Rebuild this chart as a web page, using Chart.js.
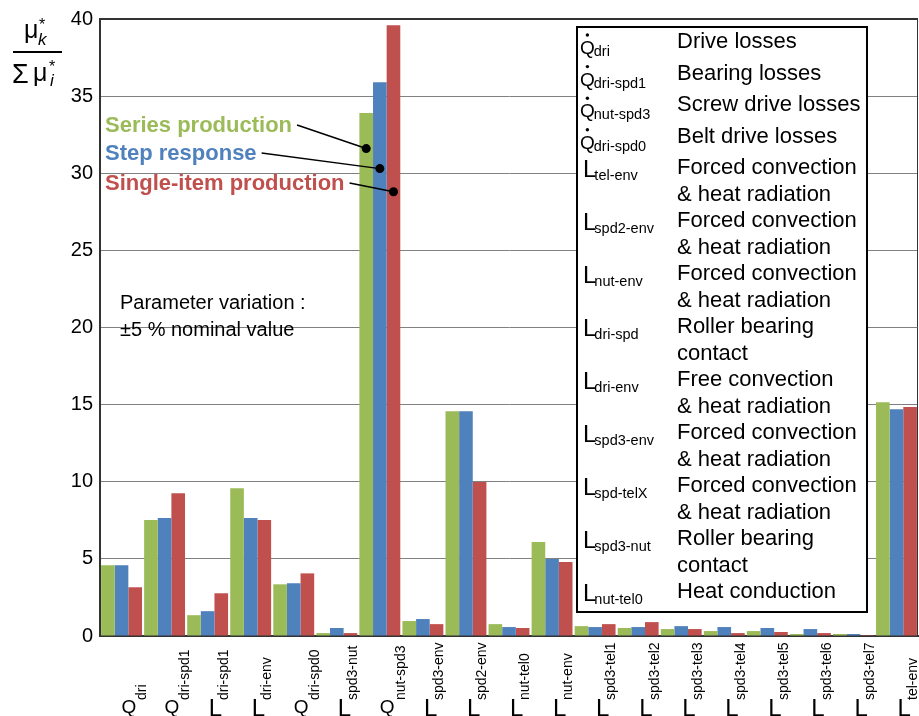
<!DOCTYPE html>
<html>
<head>
<meta charset="utf-8">
<script src="https://cdn.jsdelivr.net/npm/chart.js@4"></script>
<style>
  body { margin: 0; background: #fff; }
  canvas { display: block; }
</style>
</head>
<body>
<canvas id="chart" width="919" height="716"></canvas>
<script>
// categories: main symbol + subscript
var mainLetters = ['Q', 'Q', 'L', 'L', 'Q', 'L', 'Q', 'L', 'L', 'L', 'L', 'L', 'L', 'L', 'L', 'L', 'L', 'L', 'L'];
var subscripts = ['dri', 'dri-spd1', 'dri-spd1', 'dri-env', 'dri-spd0', 'spd3-nut', 'nut-spd3', 'spd3-env', 'spd2-env',
  'nut-tel0', 'nut-env', 'spd3-tel1', 'spd3-tel2', 'spd3-tel3', 'spd3-tel4', 'spd3-tel5', 'spd3-tel6', 'spd3-tel7', 'tel-env'];

// series values
var seriesProduction = [4.58, 7.52, 1.35, 9.58, 3.35, 0.19, 33.9, 0.97, 14.57, 0.77, 6.1, 0.64, 0.52, 0.45, 0.32, 0.32, 0.13, 0.13, 15.16];
var stepResponse = [4.58, 7.65, 1.61, 7.65, 3.42, 0.52, 35.9, 1.1, 14.57, 0.58, 5.0, 0.58, 0.58, 0.64, 0.58, 0.52, 0.45, 0.13, 14.7];
var singleItem = [3.16, 9.26, 2.77, 7.52, 4.06, 0.19, 39.6, 0.77, 9.98, 0.52, 4.8, 0.77, 0.9, 0.45, 0.19, 0.26, 0.19, 0.06, 14.84];
var seriesNames = ['Series production', 'Step response', 'Single-item production'];

// y ticks
var yMin = 0, yMax = 40, yStep = 5;

// legend box rows
var legendSymbols = ['Q', 'Q', 'Q', 'Q', 'L', 'L', 'L', 'L', 'L', 'L', 'L', 'L', 'L'];
var legendSubs = ['dri', 'dri-spd1', 'nut-spd3', 'dri-spd0', 'tel-env', 'spd2-env', 'nut-env', 'dri-spd', 'dri-env', 'spd3-env', 'spd-telX', 'spd3-nut', 'nut-tel0'];
var legendTexts = [
  ['Drive losses'], ['Bearing losses'], ['Screw drive losses'], ['Belt drive losses'],
  ['Forced convection', '& heat radiation'], ['Forced convection', '& heat radiation'], ['Forced convection', '& heat radiation'],
  ['Roller bearing', 'contact'], ['Free convection', '& heat radiation'], ['Forced convection', '& heat radiation'],
  ['Forced convection', '& heat radiation'], ['Roller bearing', 'contact'], ['Heat conduction']
];

var colors = ['#9BBB59', '#4F81BD', '#C0504D'];
var FONT = 'Arial, "Liberation Sans", sans-serif';

// levels (in data units) where the callout dots sit on the Q_nut-spd3 bars
var markerLevels = [31.6, 30.3, 28.8];

var labels = mainLetters.map(function (m, i) { return m + '_' + subscripts[i]; });

function letterFont(letter) {
  return (letter === 'L' ? '24px ' : '19px ') + FONT;
}

var decorPlugin = {
  id: 'decor',
  afterDraw: function (chart) {
    var ctx = chart.ctx;
    var area = chart.chartArea;
    var xs = chart.scales.x;
    var ys = chart.scales.y;
    ctx.save();

    // frame top + right
    ctx.strokeStyle = '#333';
    ctx.lineWidth = 2;
    ctx.beginPath();
    ctx.moveTo(area.left, area.top);
    ctx.lineTo(area.right, area.top);
    ctx.stroke();
    ctx.lineWidth = 1;
    ctx.beginPath();
    ctx.moveTo(area.right - 0.5, area.top);
    ctx.lineTo(area.right - 0.5, area.bottom);
    ctx.stroke();

    // x labels: upright letter + rotated subscript
    ctx.fillStyle = '#000';
    ctx.textAlign = 'left';
    ctx.textBaseline = 'alphabetic';
    for (var i = 0; i < labels.length; i++) {
      var cx = xs.getPixelForValue(i);
      var isL = mainLetters[i] === 'L';
      var left = cx + (isL ? 1 : 0);
      ctx.font = letterFont(mainLetters[i]);
      var mw = ctx.measureText(mainLetters[i]).width;
      ctx.fillText(mainLetters[i], left, isL ? 716 : 713);
      ctx.save();
      ctx.translate(left + mw + (isL ? 6 : 10), 700);
      ctx.rotate(-Math.PI / 2);
      ctx.font = '14px ' + FONT;
      ctx.fillText(subscripts[i], 0, 0);
      ctx.restore();
    }

    // y axis title: mu*_k / sum mu*_i
    ctx.fillStyle = '#000';
    ctx.font = '25px ' + FONT;
    ctx.fillText('\u03bc', 24, 38);
    ctx.font = 'italic 17px ' + FONT;
    ctx.fillText('k', 38, 45);
    ctx.font = '16px ' + FONT;
    ctx.fillText('*', 39, 30);
    ctx.fillRect(13, 51, 49, 2);
    ctx.font = '27px ' + FONT;
    ctx.fillText('\u03a3', 12, 83);
    ctx.font = '25px ' + FONT;
    ctx.fillText('\u03bc', 33, 81);
    ctx.font = 'italic 17px ' + FONT;
    ctx.fillText('i', 50, 86);
    ctx.font = '16px ' + FONT;
    ctx.fillText('*', 49, 72);

    // series callouts
    var textY = [132, 160, 190];
    ctx.font = 'bold 22px ' + FONT;
    for (var s = 0; s < 3; s++) {
      ctx.fillStyle = colors[s];
      ctx.fillText(seriesNames[s], 105, textY[s]);
      var tw = ctx.measureText(seriesNames[s]).width;
      var bar = chart.getDatasetMeta(s).data[6];
      var dy = ys.getPixelForValue(markerLevels[s]);
      ctx.strokeStyle = '#000';
      ctx.lineWidth = 1.5;
      ctx.beginPath();
      ctx.moveTo(105 + tw + 5, textY[s] - 7);
      ctx.lineTo(bar.x, dy);
      ctx.stroke();
      ctx.fillStyle = '#000';
      ctx.beginPath();
      ctx.arc(bar.x, dy, 4.5, 0, Math.PI * 2);
      ctx.fill();
    }

    // parameter note
    ctx.fillStyle = '#000';
    ctx.font = '20px ' + FONT;
    ctx.fillText('Parameter variation :', 120, 309);
    ctx.fillText('\u00b15 % nominal value', 120, 336);

    // legend box
    ctx.fillStyle = '#fff';
    ctx.fillRect(577, 27, 290, 585);
    ctx.strokeStyle = '#000';
    ctx.lineWidth = 2;
    ctx.strokeRect(577, 27, 290, 585);
    var y = 48;
    for (var r = 0; r < legendSymbols.length; r++) {
      var isQ = legendSymbols[r] === 'Q';
      var sx = isQ ? 580 : 583;
      ctx.fillStyle = '#000';
      ctx.font = letterFont(legendSymbols[r]);
      ctx.fillText(legendSymbols[r], sx, y + (isQ ? 6 : 3));
      var sw = ctx.measureText(legendSymbols[r]).width;
      if (isQ) {
        ctx.beginPath();
        ctx.arc(sx + sw / 2, y - 13, 1.7, 0, Math.PI * 2);
        ctx.fill();
      }
      ctx.font = '14.5px ' + FONT;
      ctx.fillText(legendSubs[r], sx + sw - (isQ ? 1 : 2), y + (isQ ? 8 : 6));
      ctx.font = '22px ' + FONT;
      for (var l = 0; l < legendTexts[r].length; l++) {
        ctx.fillText(legendTexts[r][l], 677, y + l * 26.5);
      }
      y += (r < 4 ? 31.6 : 26.5 * legendTexts[r].length);
    }
    ctx.restore();
  }
};

new Chart(document.getElementById('chart'), {
  type: 'bar',
  data: {
    labels: labels,
    datasets: [
      { label: seriesNames[0], data: seriesProduction, backgroundColor: colors[0] },
      { label: seriesNames[1], data: stepResponse, backgroundColor: colors[1] },
      { label: seriesNames[2], data: singleItem, backgroundColor: colors[2] }
    ]
  },
  options: {
    responsive: false,
    animation: false,
    layout: { padding: { top: 17, right: 1, left: 0, bottom: 0 } },
    datasets: { bar: { categoryPercentage: 0.95, barPercentage: 1.0 } },
    plugins: { legend: { display: false }, tooltip: { enabled: false } },
    scales: {
      x: {
        grid: { display: false },
        border: { display: true, color: '#333', width: 2 },
        ticks: { display: false },
        afterFit: function (scale) { scale.height = 80; }
      },
      y: {
        min: yMin,
        max: yMax,
        ticks: { stepSize: yStep, color: '#000', font: { size: 20, family: FONT }, padding: 7 },
        grid: { color: '#808080', lineWidth: 1, drawTicks: false },
        border: { display: true, color: '#333', width: 2 },
        afterFit: function (scale) { scale.width = 100; }
      }
    }
  },
  plugins: [decorPlugin]
});
</script>
</body>
</html>
